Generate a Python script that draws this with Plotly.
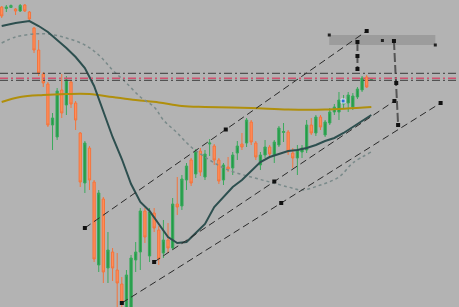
import plotly.graph_objects as go

# ---- candle data (price units) ----
candle_idx = list(range(81))
open_ = [300, 298.5, 299.5, 298, 296, 302, 295, 279, 257, 233, 223, 182, 170, 217, 202, 225, 204, 174, 124, 159,
         125, 42, 108, 39, 55, 37, 23, -3, -3, 47, 55, 96, 51, 94, 77, 54, 67, 59, 103, 101,
         127, 147, 133, 156, 130, 163, 161, 147, 127, 140, 139, 154, 163, 164, 185, 164, 142, 152, 160, 152,
         162, 174.5, 175, 154, 149, 155, 157, 182, 174, 190, 172, 184, 195, 195, 203, 204, 200, 210, 217, 230,
         227.5]
high = [301, 302, 302.5, 299, 303, 303, 296, 280, 267, 235, 225, 194, 219, 233, 231, 227, 206, 175, 166, 161,
        127, 117, 110, 75, 59, 54, 30, 37, 52, 65, 99, 99, 99, 99, 81, 87, 84, 109, 130, 132,
        144, 149, 158, 159, 157, 168, 163, 149, 144, 150, 155, 166, 174, 189, 187, 166, 155, 167, 162, 167,
        181, 184, 177, 159, 162, 162, 187, 189, 192, 192, 187, 199, 203, 215, 212, 215, 214, 220, 231, 232,
        229]
low = [289, 295, 299, 292, 295, 295, 287, 254, 231, 220, 180, 157, 167, 189, 192, 199, 177, 120, 114, 117,
       45, 35, 24, 24, 26, 0, -3, -5, -5, 35, 37, 64, 45, 75, 42, 49, 54, 57, 92, 97,
       117, 121, 129, 131, 127, 151, 142, 123, 122, 135, 132, 147, 157, 160, 162, 147, 137, 149, 149, 144,
       160, 165, 152, 139, 132, 149, 154, 172, 171, 177, 170, 182, 192, 187, 199, 195, 197, 208, 215, 219,
       227]
close = [291, 300, 301.5, 296, 301.5, 296, 288, 257, 234, 224, 182, 189, 216, 194, 227, 203, 187, 125, 164, 127,
         48, 114, 35, 57, 39, 24, 5, 32, 49, 55, 96, 70, 95, 79, 48, 67, 59, 103, 100, 128,
         141, 124, 156, 135, 153, 164, 147, 126, 142, 138, 152, 161, 160, 187, 165, 150, 152, 160, 153, 165,
         179, 175.5, 155, 149, 157, 159, 182, 174, 190, 180, 185, 195, 200, 207, 206, 212, 211, 218, 229, 220,
         228.5]

# ---- moving averages ----
ma_fast_idx = [0, 3, 6, 8, 10, 12, 14, 16, 18, 20, 22, 24, 26, 28, 30, 32, 34, 36, 38, 40,
               42, 44, 46, 48, 50, 52, 54, 56, 58, 60, 62, 64, 66, 68, 70, 72, 74, 76, 78, 80]
ma_fast = [281, 284, 286, 281, 275, 267, 259, 250, 239, 221, 195, 170, 148, 123, 105, 96, 83, 70, 64, 65,
           74, 83, 100, 110, 120, 127, 136, 145, 150, 153, 156, 157, 159, 162, 166, 169, 174, 180, 186, 192]
ma_slow_idx = [0, 4, 9, 14, 19, 24, 29, 34, 39, 44, 54, 62, 70, 80]
ma_slow = [205, 210, 212, 213, 213, 210, 207, 204.5, 201, 200, 199, 197.5, 197.5, 200]
ma_dot_idx = [0, 3, 7, 10, 14, 18, 21, 24, 27, 30, 33, 35, 38, 41, 45, 49, 54, 58, 62, 65, 69, 73, 76, 80]
ma_dot = [264, 270, 273, 273, 269, 262, 252, 237, 224, 210, 200, 187, 174, 160, 147, 137, 130, 125, 120, 117,
          122, 130, 144, 155]

# ---- horizontal levels ----
level_dark = [233.7, 226.7]
level_red = [228.7]

# ---- channel (pitchfork) lines: idx, price ----
upper_idx = [18, 48.5, 79]
upper_p = [79, 177.5, 276]
middle_idx = [33, 59, 85]
middle_p = [45, 125.5, 206]
lower_idx = [26, 60.5, 95]
lower_p = [4, 104, 204]

# ---- vertical measure lines ----
vline_a_idx = [77, 77, 77]
vline_a_p = [265, 251, 238]
vline_b_idx = [84.9, 85.4, 85.8]
vline_b_p = [266, 224, 182]

# ---- zone rectangle ----
zone_idx = [70.9, 93.85]
zone_p = [262, 272]
zone_mid = [82.4, 266.5]

# ---- marker (blue) ----
blue_idx = [73.9]
blue_p = [206]

fig = go.Figure()

# horizontal levels
for lv in level_dark:
    fig.add_shape(type="line", xref="paper", x0=0, x1=1, yref="y", y0=lv, y1=lv,
                  line=dict(color="#3a3a3a", width=1, dash="8px,3px,2px,3px"))
for lv in level_red:
    fig.add_shape(type="line", xref="paper", x0=0, x1=1, yref="y", y0=lv, y1=lv,
                  line=dict(color="#d2506e", width=1.5, dash="8px,3px,2px,3px"))

# zone rectangle
fig.add_shape(type="rect", xref="x", yref="y", x0=zone_idx[0], x1=zone_idx[1], y0=zone_p[0], y1=zone_p[1],
              fillcolor="#9c9c9c", line=dict(width=0), layer="below")

# moving averages
fig.add_trace(go.Scatter(x=ma_slow_idx, y=ma_slow, mode="lines", line=dict(color="#b08f0c", width=2, shape="spline"),
                         hoverinfo="skip"))
fig.add_trace(go.Scatter(x=ma_dot_idx, y=ma_dot, mode="lines",
                         line=dict(color="#7a8a8a", width=1.5, dash="dot", shape="spline"), hoverinfo="skip"))

# candles
fig.add_trace(go.Candlestick(
    x=candle_idx, open=open_, high=high, low=low, close=close,
    increasing=dict(line=dict(color="#3aaa5c", width=1), fillcolor="#239a48"),
    decreasing=dict(line=dict(color="#f4743c", width=1), fillcolor="#ff8d5a"),
    whiskerwidth=0, hoverinfo="skip"))

fig.add_trace(go.Scatter(x=ma_fast_idx, y=ma_fast, mode="lines", line=dict(color="#2d4f4f", width=2),
                         hoverinfo="skip"))

# channel lines
for xs, ys in [(upper_idx, upper_p), (middle_idx, middle_p), (lower_idx, lower_p)]:
    fig.add_trace(go.Scatter(x=[xs[0], xs[-1]], y=[ys[0], ys[-1]], mode="lines",
                             line=dict(color="#2a2a2a", width=1, dash="7px,4px"), hoverinfo="skip"))
    fig.add_trace(go.Scatter(x=xs, y=ys, mode="markers",
                             marker=dict(symbol="square", size=4, color="#111111"), hoverinfo="skip"))

# vertical measure lines
for xs, ys in [(vline_a_idx, vline_a_p), (vline_b_idx, vline_b_p)]:
    fig.add_trace(go.Scatter(x=xs, y=ys, mode="lines",
                             line=dict(color="#555555", width=2, dash="9px,3px"), hoverinfo="skip"))
    fig.add_trace(go.Scatter(x=xs, y=ys, mode="markers",
                             marker=dict(symbol="square", size=4, color="#111111"), hoverinfo="skip"))

# zone handles
fig.add_trace(go.Scatter(x=[zone_idx[0], zone_mid[0], zone_idx[1]], y=[zone_p[1], zone_mid[1], zone_p[0]],
                         mode="markers", marker=dict(symbol="square", size=3, color="#222222"), hoverinfo="skip"))

# blue marker
fig.add_trace(go.Scatter(x=blue_idx, y=blue_p, mode="markers",
                         marker=dict(symbol="square", size=4, color="#2a6fd6", line=dict(color="#dfe8f5", width=1)),
                         hoverinfo="skip"))

fig.update_layout(
    width=459, height=307, margin=dict(l=0, r=0, t=0, b=0),
    paper_bgcolor="#b3b3b3", plot_bgcolor="#b3b3b3",
    showlegend=False,
    xaxis=dict(range=[-0.368, 98.98], visible=False, rangeslider=dict(visible=False), fixedrange=True),
    yaxis=dict(range=[0, 307], visible=False, fixedrange=True),
)

fig.write_html("out.html", config={"displayModeBar": False})
